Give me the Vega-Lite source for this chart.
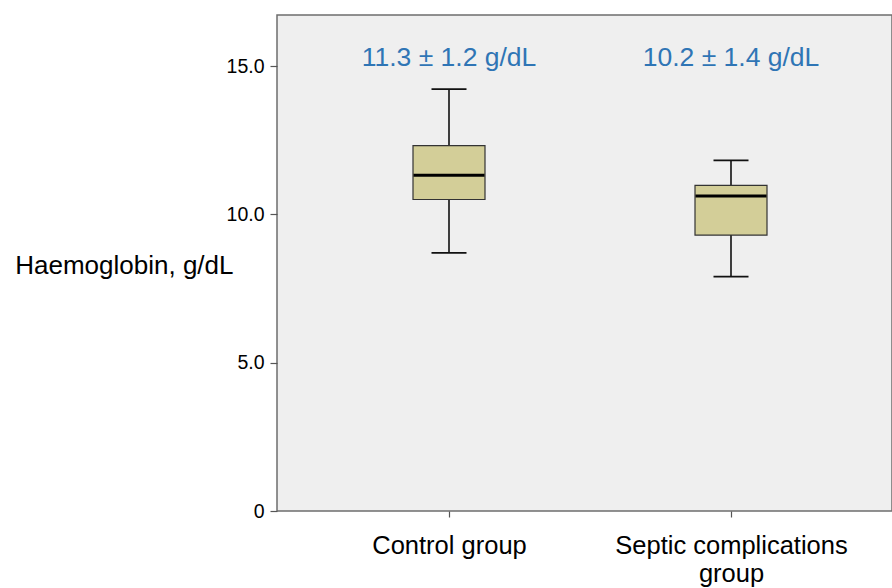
{
  "$schema": "https://vega.github.io/schema/vega-lite/v6.json",
  "width": 615,
  "height": 496,
  "autosize": "none",
  "padding": {"left": 277, "top": 15, "right": 0, "bottom": 77},
  "background": "white",
  "config": {
    "view": {"fill": "#efefef", "stroke": "#6e6e6e", "strokeWidth": 1.5},
    "font": "Liberation Sans"
  },
  "data": {
    "values": [
      {"group": "Control group", "min": 8.7, "q1": 10.5, "median": 11.32, "q3": 12.32, "max": 14.22, "label": "11.3 ± 1.2 g/dL"},
      {"group": "Septic complications group", "min": 7.9, "q1": 9.3, "median": 10.62, "q3": 10.98, "max": 11.82, "label": "10.2 ± 1.4 g/dL"}
    ]
  },
  "encoding": {
    "x": {
      "field": "group",
      "type": "nominal",
      "sort": null,
      "scale": {"type": "point", "range": [172, 454], "padding": 0},
      "axis": {
        "title": null,
        "labelAngle": 0,
        "domain": false,
        "tickSize": 6,
        "tickColor": "#555",
        "tickWidth": 1.2,
        "labelFontSize": 25.5,
        "labelColor": "#000",
        "labelPadding": 16,
        "labelLimit": 0,
        "labelLineHeight": 28,
        "labelExpr": "datum.label == 'Septic complications group' ? ['Septic complications', 'group'] : datum.label"
      }
    }
  },
  "layer": [
    {
      "mark": {"type": "rule", "color": "#111", "strokeWidth": 1.6},
      "encoding": {
        "y": {
          "field": "min",
          "type": "quantitative",
          "scale": {"domain": [0, 16.72], "nice": false, "zero": false},
          "axis": {
            "values": [0, 5, 10, 15],
            "labelExpr": "datum.value == 0 ? '0' : format(datum.value, '.1f')",
            "grid": false,
            "domain": false,
            "tickSize": 7,
            "tickColor": "#555",
            "tickWidth": 1.2,
            "labelPadding": 6,
            "labelFontSize": 19.5,
            "labelColor": "#000",
            "title": "Haemoglobin, g/dL",
            "titleAngle": 0,
            "titleFontSize": 26,
            "titleFontWeight": "normal",
            "titleColor": "#000",
            "titleAlign": "right",
            "titleBaseline": "middle",
            "titleX": -44,
            "titleY": 250,
            "titleLimit": 0
          }
        },
        "y2": {"field": "max"}
      }
    },
    {
      "mark": {"type": "bar", "size": 72, "fill": "#d3ce98", "stroke": "#333", "strokeWidth": 1.2},
      "encoding": {
        "y": {"field": "q1", "type": "quantitative"},
        "y2": {"field": "q3"}
      }
    },
    {
      "mark": {"type": "tick", "size": 71, "thickness": 3, "color": "#000", "opacity": 1},
      "encoding": {"y": {"field": "median", "type": "quantitative"}}
    },
    {
      "mark": {"type": "tick", "size": 35, "thickness": 1.6, "color": "#111", "opacity": 1},
      "encoding": {"y": {"field": "min", "type": "quantitative"}}
    },
    {
      "mark": {"type": "tick", "size": 35, "thickness": 1.6, "color": "#111", "opacity": 1},
      "encoding": {"y": {"field": "max", "type": "quantitative"}}
    },
    {
      "mark": {"type": "text", "fontSize": 26.5, "color": "#2f75b5", "baseline": "middle"},
      "encoding": {
        "y": {"datum": 15.27},
        "text": {"field": "label"}
      }
    }
  ]
}
